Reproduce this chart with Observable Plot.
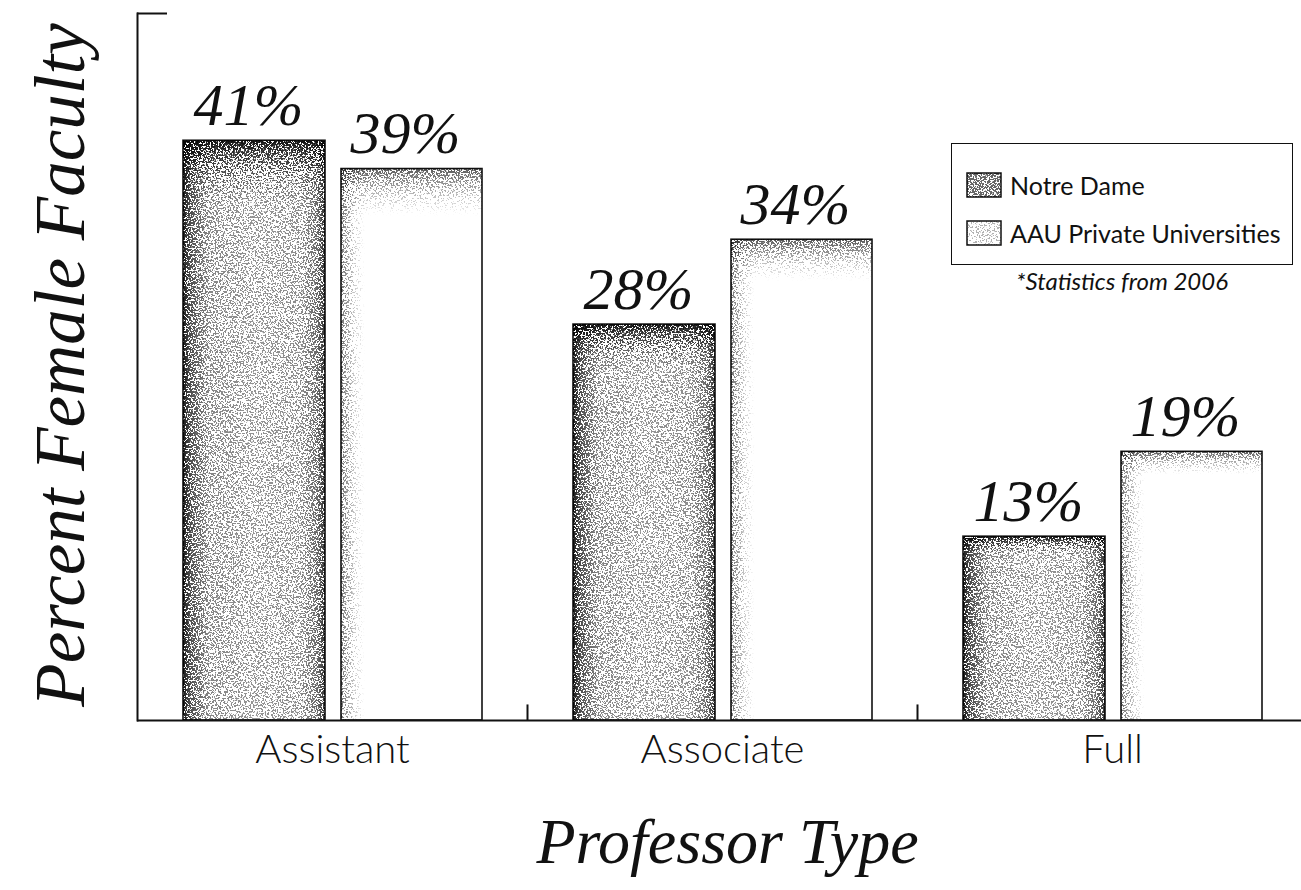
<!DOCTYPE html>
<html><head><meta charset="utf-8">
<script src="https://cdn.jsdelivr.net/npm/d3@7"></script>
<script src="https://cdn.jsdelivr.net/npm/@observablehq/plot@0.6"></script>
<style>
body{margin:0;background:#fff;}
#wrap{position:relative;width:1301px;height:890px;overflow:hidden;}
#legend{position:absolute;left:951px;top:143px;width:342px;height:122px;border:1.5px solid #111;box-sizing:border-box;font-family:Lato,sans-serif;font-size:25px;color:#111;}
.row{position:absolute;left:14px;height:26px;display:flex;align-items:center;}
.row svg{margin-right:8px;}
#note{position:absolute;left:951px;width:342px;top:266px;text-align:center;font-family:Lato,sans-serif;font-style:italic;font-size:24px;color:#111;}
</style></head><body>
<svg width="0" height="0" style="position:absolute">
<defs>
  <filter id="grain" x="0" y="0" width="1" height="1" color-interpolation-filters="sRGB">
    <feTurbulence type="fractalNoise" baseFrequency="0.6" numOctaves="2" seed="7" result="n"/>
    <feColorMatrix in="n" type="matrix" values="0 0 0 0 0  0 0 0 0 0  0 0 0 0 0  3.3 0 0 0 -1.15" result="m"/>
    <feComposite in="SourceAlpha" in2="m" operator="arithmetic" k1="0" k2="10" k3="-10" k4="-0.05" result="d"/>
    <feColorMatrix in="d" type="matrix" values="0 0 0 0 0  0 0 0 0 0  0 0 0 0 0  0 0 0 1 0" result="dd"/>
    <feComposite in="dd" in2="SourceAlpha" operator="in"/>
  </filter>
  <linearGradient id="ndH" x1="0" y1="0" x2="1" y2="0">
    <stop offset="0" stop-color="#000" stop-opacity="0.9"/>
    <stop offset="0.05" stop-color="#000" stop-opacity="0.7"/>
    <stop offset="0.18" stop-color="#000" stop-opacity="0.48"/>
    <stop offset="0.5" stop-color="#000" stop-opacity="0.42"/>
    <stop offset="0.82" stop-color="#000" stop-opacity="0.45"/>
    <stop offset="0.95" stop-color="#000" stop-opacity="0.6"/>
    <stop offset="1" stop-color="#000" stop-opacity="0.8"/>
  </linearGradient>
  <linearGradient id="ndV" x1="0" y1="0" x2="0" y2="1">
    <stop offset="0" stop-color="#000" stop-opacity="0.9"/>
    <stop offset="0.025" stop-color="#000" stop-opacity="0.65"/>
    <stop offset="0.07" stop-color="#000" stop-opacity="0.3"/>
    <stop offset="0.12" stop-color="#000" stop-opacity="0"/>
  </linearGradient>
  <linearGradient id="auH" x1="0" y1="0" x2="1" y2="0">
    <stop offset="0" stop-color="#000" stop-opacity="0.55"/>
    <stop offset="0.04" stop-color="#000" stop-opacity="0.42"/>
    <stop offset="0.1" stop-color="#000" stop-opacity="0.2"/>
    <stop offset="0.18" stop-color="#000" stop-opacity="0"/>
  </linearGradient>
  <linearGradient id="auV" x1="0" y1="0" x2="0" y2="1">
    <stop offset="0" stop-color="#000" stop-opacity="0.65"/>
    <stop offset="0.02" stop-color="#000" stop-opacity="0.48"/>
    <stop offset="0.05" stop-color="#000" stop-opacity="0.25"/>
    <stop offset="0.09" stop-color="#000" stop-opacity="0"/>
  </linearGradient>
</defs></svg>
<div id="wrap"><div id="chart"></div><div id="legend"></div><div id="note"></div></div>
<script>
const categories = ["Assistant", "Associate", "Full"];
const seriesNames = ["Notre Dame", "AAU Private Universities"];
const notreDame = [41, 28, 13];
const aau = [39, 34, 19];
const yTitle = "Percent Female Faculty";
const xTitle = "Professor Type";
const noteText = "*Statistics from 2006";

const ndRows = categories.map((c, i) => ({cat: c, series: seriesNames[0], value: notreDame[i]}));
const auRows = categories.map((c, i) => ({cat: c, series: seriesNames[1], value: aau[i]}));

const ndInset = {insetLeft: 46, insetRight: 202};
const auInset = {insetLeft: 204, insetRight: 45};
const script = "'Liberation Serif', 'DejaVu Serif', serif";

function bars(rows, inset, h, v) {
  return [
    Plot.barY(rows, {x: "cat", y: "value", fill: "white", stroke: "#111", strokeWidth: 1.6, ...inset}),
    Plot.barY(rows, {x: "cat", y: "value", fill: `url(#${h})`, ...inset}),
    Plot.barY(rows, {x: "cat", y: "value", fill: `url(#${v})`, ...inset})
  ];
}

const chart = Plot.plot({
  width: 1301, height: 890,
  marginTop: 13, marginBottom: 170, marginLeft: 137, marginRight: 0,
  x: {type: "band", domain: categories, range: [137, 1307], padding: 0, axis: null},
  y: {domain: [0, 50], axis: null},
  marks: [
    ...bars(ndRows, ndInset, "ndH", "ndV"),
    ...bars(auRows, auInset, "auH", "auV"),
    Plot.text(ndRows, {x: "cat", y: "value", text: d => d.value + "%", dx: -84, dy: -16, lineAnchor: "bottom",
      fontFamily: script, fontStyle: "italic", fontSize: 60, fill: "#111"}),
    Plot.text(auRows, {x: "cat", y: "value", text: d => d.value + "%", dx: 73, dy: -16, lineAnchor: "bottom",
      fontFamily: script, fontStyle: "italic", fontSize: 60, fill: "#111"}),
    Plot.ruleY([0], {stroke: "#111", strokeWidth: 2.2}),
    Plot.frame({anchor: "left", stroke: "#111", strokeWidth: 2}),
    Plot.tickY([{cat: categories[0], v: 50}], {x: "cat", y: "v", insetRight: 360, stroke: "#111", strokeWidth: 2}),
    Plot.ruleX(categories.slice(1), {x: d => d, y1: 0, y2: 1.1, dx: -195, stroke: "#111", strokeWidth: 2}),
    Plot.text(categories, {x: d => d, frameAnchor: "bottom", lineAnchor: "top", dy: 14,
      fontFamily: "Lato, sans-serif", fontWeight: 300, fontSize: 40, fill: "#111"}),
    Plot.text([yTitle], {frameAnchor: "left", textAnchor: "middle", rotate: -90, dx: -76, dy: -2, fontFamily: script,
      fontStyle: "italic", fontSize: 71, fill: "#111"}),
    Plot.text([xTitle], {frameAnchor: "bottom", lineAnchor: "bottom", dx: 8, dy: 142, fontFamily: script,
      fontStyle: "italic", fontSize: 64, fill: "#111"})
  ]
});
chart.querySelectorAll('g[fill^="url(#"]').forEach(g => g.setAttribute("filter", "url(#grain)"));
document.getElementById("chart").appendChild(chart);

// legend
const legend = d3.select("#legend");
const swatchAlpha = [0.6, 0.3];
const rowTops = [28, 76];
seriesNames.forEach((name, i) => {
  const row = legend.append("div").attr("class", "row").style("top", rowTops[i] + "px");
  const s = row.append("svg").attr("width", 36).attr("height", 26);
  s.append("rect").attr("x", 1).attr("y", 1).attr("width", 34).attr("height", 24).attr("fill", "white").attr("stroke", "#111").attr("stroke-width", 1.5);
  s.append("rect").attr("x", 1).attr("y", 1).attr("width", 34).attr("height", 24).attr("fill", "#000").attr("fill-opacity", swatchAlpha[i]).attr("filter", "url(#grain)");
  row.append("span").text(name);
});
d3.select("#note").text(noteText);
</script>
</body></html>
